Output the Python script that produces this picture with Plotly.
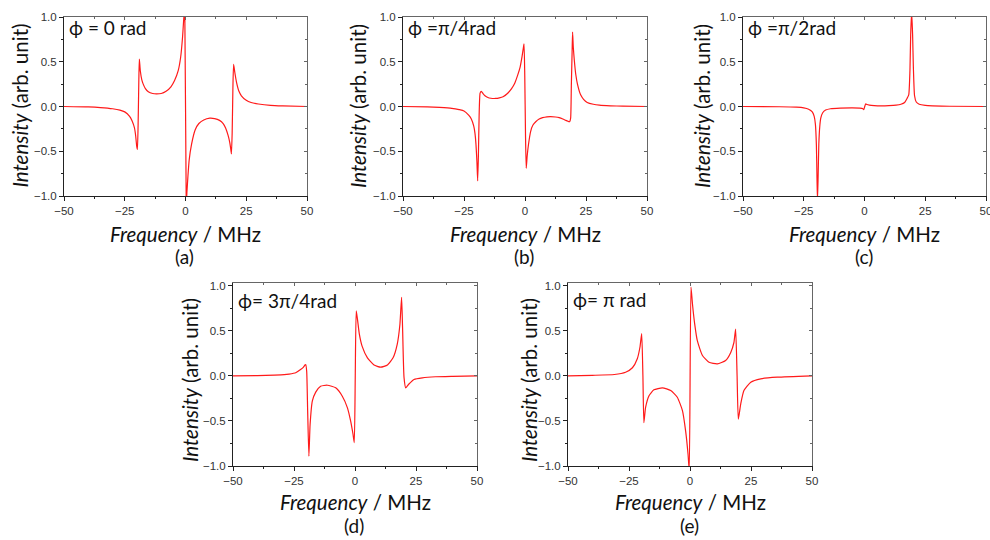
import plotly.graph_objects as go

# ---------------- data ----------------
freq_a = [-50, -40, -35, -30, -27, -25, -23, -22, -21, -20.5,
          -20.1, -19.8, -19.5, -19.2, -19.0, -18.6, -18.0, -17.4, -16.5, -15.3,
          -13.5, -12, -10, -8, -6, -4.5, -3, -2, -1.2, -0.8,
          -0.5, -0.3, 0.3, 0.6, 1.0, 1.5, 2.5, 4, 5.5, 7.5,
          10, 12, 14, 15.5, 16.5, 17.5, 18.2, 18.7, 18.9, 19.2,
          19.5, 19.8, 20.3, 21, 22, 23, 25, 27, 30, 35,
          40, 50]
int_a = [0, -0.005, -0.012, -0.025, -0.04, -0.06, -0.11, -0.16, -0.24, -0.33,
         -0.44, -0.48, -0.2, 0.3, 0.53, 0.40, 0.30, 0.25, 0.20, 0.165,
         0.145, 0.14, 0.145, 0.17, 0.22, 0.29, 0.40, 0.55, 0.78, 0.95,
         1.05, 1.1, -1.1, -0.95, -0.78, -0.6, -0.42, -0.26, -0.19, -0.15,
         -0.13, -0.135, -0.155, -0.19, -0.24, -0.32, -0.40, -0.49, -0.53, -0.3,
         0.2, 0.47, 0.38, 0.27, 0.17, 0.12, 0.07, 0.045, 0.028, 0.012,
         0.006, 0]

freq_b = [-50, -40, -35, -30, -27, -25, -23, -22, -21, -20.5,
          -20.1, -19.7, -19.4, -19.1, -18.8, -18.4, -17.9, -17.2, -16.4, -15.2,
          -14, -12, -10.5, -9, -7.2, -5.5, -4.2, -3, -2, -1.2,
          -0.7, -0.4, -0.1, 0.2, 0.5, 0.9, 1.4, 2.3, 3.2, 4.4,
          5.8, 7.2, 9, 10.5, 12.5, 14, 15.5, 16.7, 17.6, 18.3,
          18.7, 19.0, 19.3, 19.5, 19.8, 20.2, 20.8, 21.5, 22.8, 24,
          25.5, 28, 30.5, 35, 40, 50]
int_b = [0, -0.004, -0.01, -0.02, -0.035, -0.05, -0.10, -0.14, -0.22, -0.30,
         -0.42, -0.62, -0.83, -0.55, -0.1, 0.15, 0.17, 0.145, 0.12, 0.10,
         0.092, 0.09, 0.097, 0.11, 0.145, 0.2, 0.26, 0.35, 0.44, 0.56,
         0.65, 0.70, 0.35, -0.3, -0.69, -0.55, -0.43, -0.28, -0.21, -0.17,
         -0.14, -0.125, -0.115, -0.113, -0.117, -0.125, -0.14, -0.155, -0.165, -0.17,
         -0.13, 0.25, 0.6, 0.83, 0.66, 0.52, 0.36, 0.25, 0.13, 0.08,
         0.045, 0.025, 0.015, 0.008, 0.004, 0]

freq_c = [-50, -35, -28, -25, -23, -21.5, -20.7, -20.2, -19.8, -19.55,
          -19.35, -19.1, -18.8, -18.4, -18.0, -17.2, -16, -14, -10, -5,
          -2, -0.8, -0.3, 0.1, 0.5, 1, 2, 4, 7, 10,
          13, 15, 16.5, 17.5, 18.2, 18.7, 19.0, 19.4, 19.8, 20.1,
          20.6, 21.3, 22.5, 25, 28, 35, 50]
int_c = [0, -0.003, -0.008, -0.015, -0.03, -0.06, -0.11, -0.2, -0.43, -0.8,
         -1.05, -0.8, -0.42, -0.22, -0.13, -0.07, -0.04, -0.025, -0.018, -0.015,
         -0.018, -0.022, -0.035, 0.0, 0.03, 0.022, 0.015, 0.01, 0.008, 0.01,
         0.015, 0.025, 0.045, 0.09, 0.13, 0.4, 0.8, 1.05, 0.8, 0.45,
         0.12, 0.05, 0.025, 0.012, 0.007, 0.003, 0]

freq_d = [-50, -40, -33, -29, -27, -24.3, -22.3, -21.2, -20.5, -20.2,
          -19.8, -19.4, -18.9, -18.4, -17.5, -16.1, -14.1, -11.3, -7.9, -5.2,
          -3.1, -1.8, -0.8, -0.3, 0.1, 0.5, 1.0, 1.8, 2.9, 5.1,
          7.8, 10.5, 13.3, 15.6, 17.3, 18.4, 19.1, 19.5, 20.1, 20.8,
          22.1, 24.2, 27.6, 33, 40, 50]
int_d = [0, 0.003, 0.008, 0.013, 0.02, 0.035, 0.07, 0.095, 0.12, 0.126,
         0.05, -0.39, -0.89, -0.54, -0.28, -0.18, -0.115, -0.104, -0.133, -0.226,
         -0.355, -0.50, -0.65, -0.74, -0.02, 0.72, 0.63, 0.46, 0.33, 0.20,
         0.12, 0.096, 0.12, 0.20, 0.35, 0.57, 0.87, 0.53, -0.02, -0.133,
         -0.09, -0.04, -0.022, -0.01, -0.005, 0]

freq_e = [-50, -40, -31, -26.4, -23.6, -21.6, -20.5, -19.8, -19.3, -18.9,
          -18.2, -16.8, -14.8, -11.3, -7.9, -5.2, -3.1, -1.8, -0.8, -0.3,
          0.4, 1.0, 1.9, 3.0, 5.1, 7.8, 11.2, 14.6, 16.7, 18.0,
          18.7, 19.3, 19.8, 20.8, 22.1, 24.9, 29, 35.8, 50]
int_e = [0, 0.006, 0.015, 0.04, 0.09, 0.19, 0.32, 0.47, 0.0, -0.52,
         -0.35, -0.22, -0.155, -0.133, -0.163, -0.237, -0.385, -0.61, -0.87, -1.05,
         0.985, 0.80, 0.58, 0.39, 0.226, 0.15, 0.133, 0.17, 0.26, 0.37,
         0.52, 0.0, -0.48, -0.31, -0.163, -0.07, -0.033, -0.015, 0]

phase_labels = ["ϕ = 0 rad", "ϕ =π/4rad", "ϕ =π/2rad", "ϕ= 3π/4rad", "ϕ= π rad"]
panel_tags = ["(a)", "(b)", "(c)", "(d)", "(e)"]
x_title = "<i>Frequency</i> / MHz"
y_title = "<i>Intensity</i> (arb. unit)"
x_range = [-50, 50]

series = [(freq_a, int_a), (freq_b, int_b), (freq_c, int_c), (freq_d, int_d), (freq_e, int_e)]

# ---------------- layout geometry (pixels) ----------------
W, H = 990, 540
# left, right, top, bottom of each plotting area
boxes = [(64, 307, 17, 196), (403, 647, 17, 196), (743, 986, 17, 196),
         (233, 477, 283, 466), (568, 812, 283, 466)]
y_ranges = [[-1, 1], [-1, 1], [-1, 1], [-1, 1.03], [-1, 1.03]]
ytitle_x = [19.5, 358, 702, 190, 529]
ytitle_y = [106, 106, 106, 380, 380]
xtitle_y = [234, 234, 234, 502, 502]
tag_y = [256, 256, 256, 525, 525]
label_y = [28, 27, 27, 300, 299]


def fx(p):
    return p / W


def fy(p):
    return 1 - p / H


TXT = "Lato, 'Noto Sans', sans-serif"
TICKF = dict(family="'Liberation Sans', Arial, sans-serif", size=11.5, color="#333")
AX = "#222"
AX2 = "#666"

fig = go.Figure()
annotations = []
n = len(series)
for i, ((xs, ys), (l, r, t, b)) in enumerate(zip(series, boxes)):
    k = i + 1
    kk = k + n
    xa = "x" if k == 1 else f"x{k}"
    ya = "y" if k == 1 else f"y{k}"
    fig.add_trace(go.Scatter(x=xs, y=ys, mode="lines", xaxis=xa, yaxis=ya,
                             line=dict(color="#ff1a1a", width=1.2, shape="spline", smoothing=0.5),
                             hoverinfo="skip", showlegend=False))
    # invisible helpers so the mirrored (top / right) tick axes get drawn
    fig.add_trace(go.Scatter(x=[0], y=[0], mode="markers", xaxis=f"x{kk}", yaxis=ya,
                             marker=dict(opacity=0, size=1), hoverinfo="skip", showlegend=False))
    fig.add_trace(go.Scatter(x=[0], y=[0], mode="markers", xaxis=xa, yaxis=f"y{kk}",
                             marker=dict(opacity=0, size=1), hoverinfo="skip", showlegend=False))
    common_x = dict(range=x_range, showgrid=False, zeroline=False, showline=True,
                    linewidth=1, tick0=0, dtick=25, automargin=False, fixedrange=True)
    common_y = dict(range=y_ranges[i], showgrid=False, zeroline=False, showline=True,
                    linewidth=1, tick0=0, dtick=0.5, automargin=False, fixedrange=True)
    fig.layout[f"xaxis{k}"] = dict(
        common_x, domain=[fx(l), fx(r)], anchor=ya, linecolor=AX, mirror=True,
        ticks="outside", ticklen=4, tickwidth=1, tickcolor=AX,
        minor=dict(ticks="outside", dtick=12.5, ticklen=2, tickcolor=AX),
        tickfont=TICKF, showticklabels=True, ticklabeloverflow="allow")
    fig.layout[f"yaxis{k}"] = dict(
        common_y, domain=[fy(b), fy(t)], anchor=xa, linecolor=AX, mirror=True,
        ticks="outside", ticklen=4, tickwidth=1, tickcolor=AX, tickformat=".1f",
        minor=dict(ticks="outside", dtick=0.25, ticklen=2, tickcolor=AX),
        tickfont=TICKF, showticklabels=True, ticklabeloverflow="allow")
    # mirrored inward ticks (top and right)
    fig.layout[f"xaxis{kk}"] = dict(
        common_x, overlaying=xa, anchor=ya, side="top", linecolor=AX2,
        ticks="inside", ticklen=3, tickcolor=AX2, showticklabels=False,
        minor=dict(ticks="inside", dtick=12.5, ticklen=2, tickcolor=AX2))
    fig.layout[f"yaxis{kk}"] = dict(
        common_y, overlaying=ya, anchor=xa, side="right", linecolor=AX2,
        ticks="inside", ticklen=3, tickcolor=AX2, showticklabels=False,
        minor=dict(ticks="inside", dtick=0.25, ticklen=2, tickcolor=AX2))

    cx = (l + r) / 2
    annotations.append(dict(text=phase_labels[i], x=fx(l + 3), y=fy(label_y[i]),
                            xref="paper", yref="paper", xanchor="left", yanchor="middle",
                            showarrow=False, font=dict(family=TXT, size=19, color="#111")))
    annotations.append(dict(text=x_title, x=fx(cx), y=fy(xtitle_y[i]),
                            xref="paper", yref="paper", xanchor="center", yanchor="middle",
                            showarrow=False, font=dict(family=TXT, size=20.5, color="#111")))
    annotations.append(dict(text=panel_tags[i], x=fx(cx - 1), y=fy(tag_y[i]),
                            xref="paper", yref="paper", xanchor="center", yanchor="middle",
                            showarrow=False, font=dict(family=TXT, size=19, color="#111")))
    annotations.append(dict(text=y_title, x=fx(ytitle_x[i]), y=fy(ytitle_y[i]),
                            xref="paper", yref="paper", xanchor="center", yanchor="middle",
                            textangle=-90, showarrow=False,
                            font=dict(family=TXT, size=20.5, color="#111")))

fig.update_layout(template="none", width=W, height=H, margin=dict(l=0, r=0, t=0, b=0, pad=0),
                  paper_bgcolor="white", plot_bgcolor="white",
                  showlegend=False, annotations=annotations)

fig.write_html("out.html", config={"displayModeBar": False},
               post_script="document.body.style.margin='0px';document.body.style.overflow='hidden';")
